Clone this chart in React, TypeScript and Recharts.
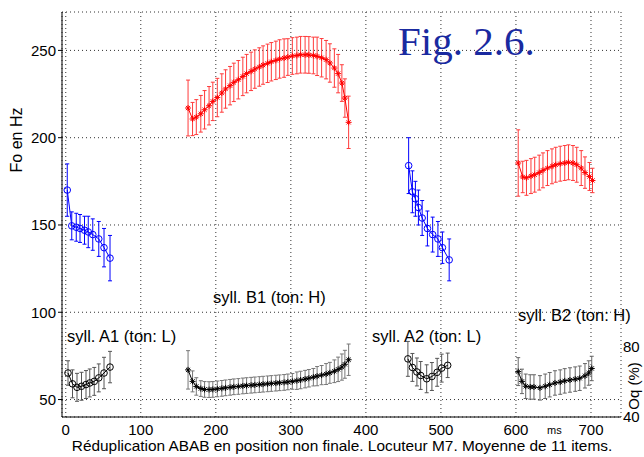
import { ComposedChart, Line, XAxis, YAxis, CartesianGrid, ErrorBar } from 'recharts';

// syllable A1 (ton: L) - Fo
const a1Time = [2, 8, 14, 19, 25, 30, 36, 44, 51, 59];
const a1Fo = [170, 149.5, 148.7, 148, 147, 146, 144.5, 142, 137, 131];
const a1FoErr = [15, 8, 8, 8, 8, 9, 9, 10, 11, 13];
// syllable A1 - Oq
const a1OqTime = [3, 9, 15, 21, 27, 32, 38, 44, 51, 59];
const a1Oq = [65.2, 59, 57, 57.6, 58.6, 59.5, 60.4, 62.4, 65.2, 68.6];
const a1OqErr = [7, 8, 8, 8, 8, 8, 8, 8, 9, 9];

// syllable B1 (ton: H)
const b1Time = [
  163, 169, 174, 180, 185, 191, 196, 202, 208, 213, 219, 224, 230, 236, 241, 247, 252, 258, 263, 269,
  274, 280, 285, 291, 296, 302, 308, 313, 319, 324, 330, 335, 341, 347, 352, 358, 363, 368, 372, 377,
];
const b1Fo = [
  217, 210.7, 211.8, 213.7, 216, 218.3, 220.8, 223, 225.6, 227.9, 229.8, 231.7, 233.2, 235.1, 236.7, 238,
  239.3, 240.5, 241.6, 242.6, 243.5, 244.3, 245.1, 245.6, 246.2, 246.8, 247.1, 247.5, 247.5, 247.4, 247.1,
  246.6, 245.8, 244.7, 242.8, 239.9, 236.7, 231.3, 222.7, 208.8,
];
const b1FoErr = [
  16, 9.5, 10, 10.5, 11, 11, 11, 11, 11, 11, 11, 11, 11, 11, 11, 11, 11, 11, 11, 11,
  11, 11, 11, 11, 10.5, 10.5, 10.5, 10.5, 10.5, 10.5, 10.5, 11, 11, 11, 11, 11, 11, 10.5, 11, 15,
];
const b1Oq = [
  67, 60.4, 57.5, 56.3, 55.8, 55.7, 55.8, 56.1, 56.4, 56.7, 57, 57.3, 57.5, 57.8, 58, 58.2, 58.4, 58.6, 58.8, 59,
  59.2, 59.4, 59.6, 59.8, 60.1, 60.4, 60.8, 61.2, 61.7, 62.2, 62.8, 63.4, 64, 64.6, 65.3, 66.2, 67.3, 68.6, 70.2, 72.8,
];
const b1OqErr = [
  11, 6, 5, 4.5, 4.5, 4.5, 4.5, 4.5, 4.5, 4.5, 4.5, 4.5, 4.5, 4.5, 4.5, 4.5, 4.5, 4.5, 4.5, 4.5,
  4.5, 4.5, 4.5, 4.5, 4.5, 4.5, 5, 5, 5, 5, 5, 5.5, 5.5, 6, 6, 6.5, 7, 7.5, 8, 9,
];

// syllable A2 (ton: L)
const a2Time = [457, 462, 466, 470, 475, 482, 489, 496, 502, 511];
const a2Fo = [184, 169, 165, 160, 154, 148, 144.5, 142, 137, 130];
const a2FoErr = [16, 12, 10, 10, 10, 10, 10, 10, 9, 12];
const a2OqTime = [456, 462, 468, 473, 481, 488, 495, 501, 509];
const a2Oq = [73.3, 68.4, 65.8, 63.8, 61.9, 63.2, 65.6, 68, 69.6];
const a2OqErr = [10, 8, 8, 8, 8, 8, 8, 8, 7];

// syllable B2 (ton: H)
const b2Time = [603, 609, 614, 620, 625, 631, 636, 642, 648, 653, 659, 665, 670, 676, 681, 687, 692, 698, 702];
const b2Fo = [185.5, 177.5, 177, 178, 178.8, 180, 181.3, 182.6, 183.6, 184.5, 185.1, 185.5, 185.9, 185.5, 184.5, 182.6, 180, 177.8, 175.5];
const b2FoErr = [19, 9, 10, 10, 10, 10, 10, 10, 10, 10, 10, 10, 10, 10, 10, 10, 9, 8, 7];
const b2OqTime = [603, 608, 613, 619, 624, 632, 639, 645, 652, 659, 665, 672, 679, 685, 692, 697, 701];
const b2Oq = [66, 60.4, 57.6, 57.2, 57.2, 56.7, 57.6, 58.5, 59.5, 60, 60.7, 61.2, 61.7, 62.2, 63.6, 65.2, 67.8];
const b2OqErr = [8, 7, 7, 7, 7, 7, 7, 7, 7, 7, 7, 7, 7, 7, 7, 7, 7];

const xTicks = [0, 100, 200, 300, 400, 500, 600, 700];
const foTicks = [50, 100, 150, 200, 250];
const oqTicks = [40, 80];

const FONT = '"Liberation Sans", Arial, sans-serif';

const mk = (t: number[], v: number[], e: number[]) => t.map((x, i) => ({ t: x, v: v[i], e: e[i] }));

type Marker = 'circle' | 'star';
const SERIES: { key: string; data: { t: number; v: number; e: number }[]; color: string; bar: string; marker: Marker }[] = [
  { key: 'a1oq', data: mk(a1OqTime, a1Oq, a1OqErr), color: '#000', bar: '#555', marker: 'circle' },
  { key: 'b1oq', data: mk(b1Time, b1Oq, b1OqErr), color: '#000', bar: '#777', marker: 'star' },
  { key: 'a2oq', data: mk(a2OqTime, a2Oq, a2OqErr), color: '#000', bar: '#555', marker: 'circle' },
  { key: 'b2oq', data: mk(b2OqTime, b2Oq, b2OqErr), color: '#000', bar: '#666', marker: 'star' },
  { key: 'a1fo', data: mk(a1Time, a1Fo, a1FoErr), color: '#0000ff', bar: '#0000ff', marker: 'circle' },
  { key: 'a2fo', data: mk(a2Time, a2Fo, a2FoErr), color: '#0000ff', bar: '#0000ff', marker: 'circle' },
  { key: 'b1fo', data: mk(b1Time, b1Fo, b1FoErr), color: '#ff0000', bar: '#ff3b3b', marker: 'star' },
  { key: 'b2fo', data: mk(b2Time, b2Fo, b2FoErr), color: '#ff0000', bar: '#ff3b3b', marker: 'star' },
];

const makeDot = (color: string, marker: Marker) => (props: any) => {
  const { cx, cy, index } = props;
  if (cx == null || cy == null) return <g key={index} />;
  if (marker === 'circle') {
    return <circle key={index} cx={cx} cy={cy} r={3.3} stroke={color} strokeWidth={1} fill="none" />;
  }
  const r = 3;
  const d = 2.1;
  return (
    <path
      key={index}
      d={`M${cx - r},${cy}H${cx + r}M${cx},${cy - r}V${cy + r}M${cx - d},${cy - d}L${cx + d},${cy + d}M${cx - d},${cy + d}L${cx + d},${cy - d}`}
      stroke={color}
      strokeWidth={1}
      fill="none"
    />
  );
};

export default function App() {
  return (
    <div style={{ position: 'absolute', left: 0, top: 0, width: 644, height: 457, background: '#fff', fontFamily: FONT }}>
      <ComposedChart width={644} height={457} margin={{ top: 12, right: 0, bottom: 0, left: 0 }}>
        <CartesianGrid strokeDasharray="1 3" stroke="#333" />
        <XAxis
          type="number"
          dataKey="t"
          domain={[-5, 740]}
          ticks={xTicks}
          allowDataOverflow
          height={40}
          tickLine={false}
          tickSize={0}
          tickMargin={7}
          axisLine={{ stroke: '#000' }}
          tick={{ fontSize: 15, fill: '#000', fontFamily: FONT }}
        />
        <YAxis
          type="number"
          domain={[40, 272]}
          ticks={foTicks}
          allowDataOverflow
          width={62}
          tickSize={4}
          tickMargin={2}
          tickLine={{ stroke: '#000' }}
          axisLine={{ stroke: '#000' }}
          tick={{ fontSize: 15, fill: '#000', fontFamily: FONT }}
        />
        <YAxis
          yAxisId="r"
          orientation="right"
          type="number"
          domain={[40, 272]}
          ticks={oqTicks}
          allowDataOverflow
          width={23}
          tickSize={0}
          tickMargin={2}
          tickLine={false}
          axisLine={false}
          tick={{ fontSize: 15, fill: '#000', fontFamily: FONT }}
        />
        {SERIES.map((s) => (
          <Line
            key={s.key}
            name={s.key}
            data={s.data}
            dataKey="v"
            type="linear"
            stroke={s.color}
            strokeWidth={1}
            dot={makeDot(s.color, s.marker)}
            activeDot={false}
            legendType="none"
            isAnimationActive={false}
          >
            <ErrorBar dataKey="e" direction="y" width={2} stroke={s.bar} strokeWidth={1} isAnimationActive={false} />
          </Line>
        ))}
      </ComposedChart>
      <svg width={644} height={457} style={{ position: 'absolute', left: 0, top: 0, pointerEvents: 'none' }}>
        <text x={398} y={55} fontSize={41} fill="#1a2aa0" fontFamily='"Liberation Serif", "Times New Roman", serif'>
          Fig. 2.6.
        </text>
        <text x={67} y={342} fontSize={16.5} fontFamily={FONT}>syll. A1 (ton: L)</text>
        <text x={213} y={303} fontSize={16.5} fontFamily={FONT}>syll. B1 (ton: H)</text>
        <text x={372} y={342} fontSize={16.5} fontFamily={FONT}>syll. A2 (ton: L)</text>
        <text x={518} y={321} fontSize={16.5} fontFamily={FONT}>syll. B2 (ton: H)</text>
        <text x={547} y={434} fontSize={11} fontFamily={FONT}>ms</text>
        <text x={342} y={451} fontSize={15.4} textAnchor="middle" fontFamily={FONT}>
          Réduplication ABAB en position non finale. Locuteur M7. Moyenne de 11 items.
        </text>
        <text x={16} y={140} fontSize={16} textAnchor="middle" dominantBaseline="central" transform="rotate(-90 16 140)" fontFamily={FONT}>
          Fo en Hz
        </text>
        <text x={633} y={386} fontSize={15} textAnchor="middle" dominantBaseline="central" transform="rotate(-90 633 386)" fontFamily={FONT}>
          Oq (%)
        </text>
      </svg>
    </div>
  );
}
